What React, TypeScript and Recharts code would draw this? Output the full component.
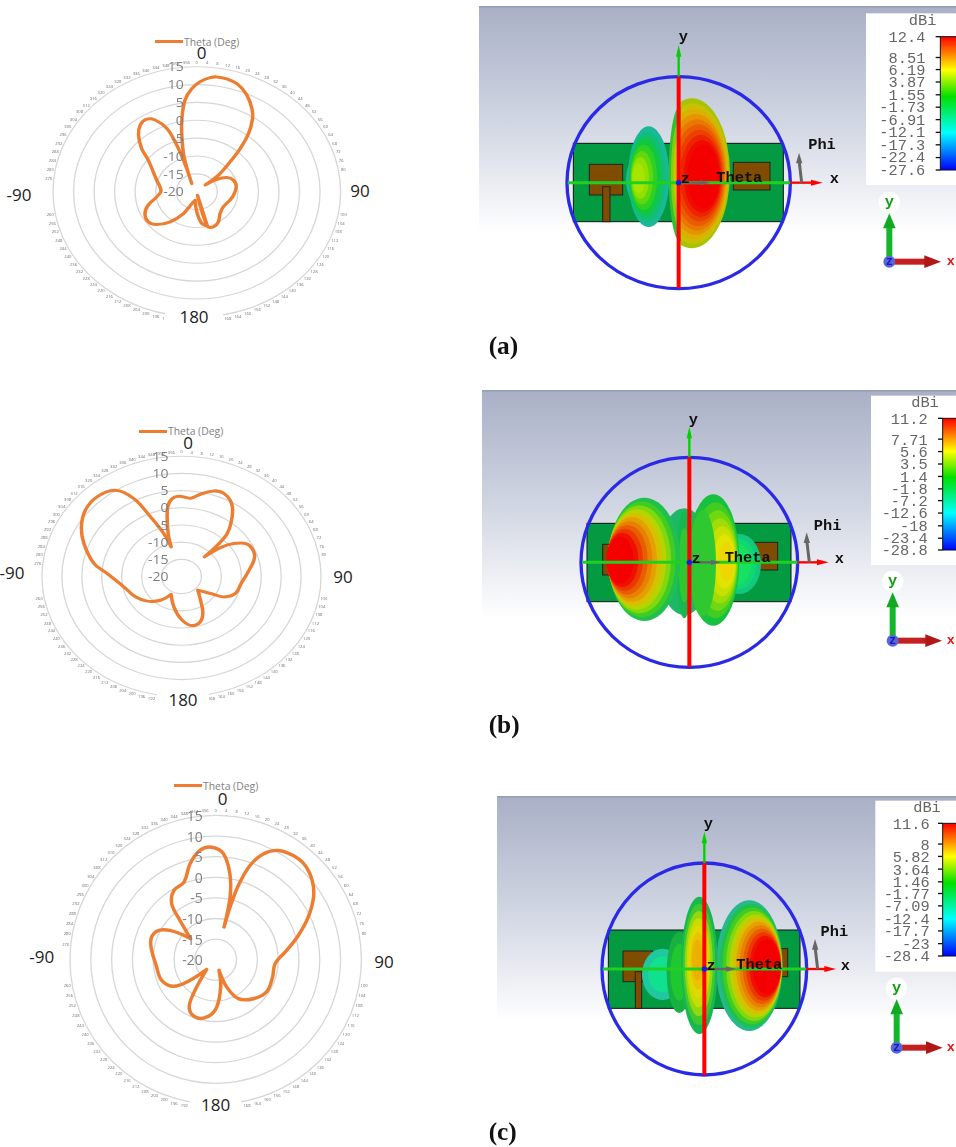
import React from 'react';
import { RadarChart, Radar, PolarGrid, PolarAngleAxis, PolarRadiusAxis } from 'recharts';

const thetaA = [1.5, 5.8, 8.6, 13, 18.7, 24.2, 29.9, 33.5, 37.7, 41.1, 44, 48.5, 47.3, 54.7, 61.3, 69.9, 81.7, 96, 106, 122.9, 137, 147.9, 157.5, 164.8, 170, 164.8, 173, 180, 190, 200, 208, 217.7, 226.8, 234.6, 244.3, 252.5, 261.8, 272, 288.5, 306.9, 312.1, 318.2, 323.6, 329, 333.2, 337.6, 339.3, 339.9, 332, 342.5, 347.3, 350.3, 353.7, 357.6];
const gainA = [10.8, 12.1, 12.5, 12.4, 11.6, 9.7, 6.9, 4.6, 0.6, -3.9, -8.3, -12.95, -17.2, -14, -11.7, -10.5, -10.3, -11, -11.6, -12.3, -11.7, -10.1, -9.4, -10, -19, -10, -11.3, -14.4, -17.6, -16.5, -13.1, -9.4, -6.6, -5.5, -6, -7.6, -10.15, -11.3, -9.7, -5.2, -1.9, 1.3, 3.2, 3.7, 2.5, -0.8, -5, -10.55, -17.4, -9.7, -3.3, 1.3, 5.9, 8.9];

const thetaB = [343.2, 345, 348.3, 350.8, 354.1, 358.4, 5.7, 11.2, 18, 23.7, 30.6, 36.2, 42.5, 44.6, 45.3, 49.3, 53.9, 60.3, 68.4, 75.3, 87, 97.7, 110, 119.1, 124.2, 134.2, 145.3, 153.5, 161.5, 171, 181.2, 192.3, 206.8, 217.5, 230.2, 242.9, 258.3, 272.7, 279.8, 291.4, 300, 308.7, 317.6, 326.5, 332.1, 335.9, 340.4];
const gainB = [-11, -7.05, -2.2, 1, 2.8, 3.4, 2.9, 4.4, 6.2, 6.4, 4.7, 1.5, -3, -7.2, -11.9, -7.1, -3.7, -1, -0.5, -1.2, -3.5, -4.9, -5.6, -7.8, -11.2, -14.3, -11.6, -8, -5.8, -5.6, -7.8, -11, -14.2, -11.3, -8.8, -7, -5.2, -1.3, 2.3, 6.3, 9, 10.9, 11.4, 10.1, 5.7, -1, -6.7];

const thetaC = [14.2, 15.1, 16.8, 19.8, 24, 29.6, 36.4, 43.1, 50.4, 57.1, 65.1, 73.5, 82.4, 93.9, 107.1, 122.6, 136.3, 150.1, 158.3, 162.8, 169.7, 178.8, 187.3, 198, 208, 213, 222.7, 231, 237.5, 248.9, 262.8, 285.3, 295.9, 302.9, 310.4, 318, 322.1, 329.2, 338, 345.2, 351.9, 358, 4.1, 9.3, 12.8];
const gainC = [-11.8, -6.8, -1.2, 4.3, 8.1, 10.5, 11.4, 11.4, 10.1, 8, 4.5, 0.7, -2.8, -5.7, -5.7, -5.5, -6.9, -9.1, -12.9, -17.3, -13.3, -8.5, -6.15, -5.2, -6.5, -10.2, -16.8, -12.1, -8, -6.1, -5.7, -3.8, -4.25, -6.9, -12.1, -7.2, -2.8, -0.4, 0.3, 4.1, 6.8, 7.3, 5.8, 1.1, -4.4];

const radiusTicks = [-20, -15, -10, -5, 0, 5, 10, 15];
const angleTicks = Array.from({ length: 90 }, (_, i) => i * 4);

const colorbarA = ['12.4', '8.51', '6.19', '3.87', '1.55', '-1.73', '-6.91', '-12.1', '-17.3', '-22.4', '-27.6'];
const colorbarB = ['11.2', '7.71', '5.6', '3.5', '1.4', '-1.8', '-7.2', '-12.6', '-18', '-23.4', '-28.8'];
const colorbarC = ['11.6', '8', '5.82', '3.64', '1.46', '-1.77', '-7.09', '-12.4', '-17.7', '-23', '-28.4'];

const ORANGE = '#ed7d31';
const SANS = '"Open Sans", sans-serif';
const MONO = '"Liberation Mono", monospace';

const isHidden = (deg: number) =>
  (deg > 80 && deg < 100) || (deg > 168 && deg < 192) || (deg > 260 && deg < 276) || deg >= 360;

const AngleTick = (props: any) => {
  const { x, y, payload } = props;
  if (isHidden(payload.value)) return null;
  return (
    <text x={x} y={y} textAnchor="middle" dominantBaseline="central" fontSize={4.2} fontFamily={SANS} fill="#6f6f6f">
      {payload.value}
    </text>
  );
};

const RadiusTick = (props: any) => {
  const { x, y, payload } = props;
  return (
    <text x={x - 13} y={y} textAnchor="end" dominantBaseline="central" fontSize={14} fontFamily={SANS} fill="#7f7f7f">
      {payload.value}
    </text>
  );
};

// closed curve through the radar's own points, corners kept sharp at the nulls
const SmoothTrace = (props: any) => {
  const pts: { x: number; y: number }[] = props.points;
  const n = pts.length;
  const tangents = pts.map((p, i) => {
    const a = pts[(i + n - 1) % n];
    const b = pts[(i + 1) % n];
    const ax = p.x - a.x;
    const ay = p.y - a.y;
    const bx = b.x - p.x;
    const by = b.y - p.y;
    const la = Math.hypot(ax, ay) || 1;
    const lb = Math.hypot(bx, by) || 1;
    if ((ax * bx + ay * by) / (la * lb) < -0.1) return { x: 0, y: 0 };
    const tx = b.x - a.x;
    const ty = b.y - a.y;
    const lt = Math.hypot(tx, ty) || 1;
    return { x: tx / lt, y: ty / lt };
  });
  let d = `M${pts[0].x},${pts[0].y}`;
  for (let i = 0; i < n; i++) {
    const p = pts[i];
    const q = pts[(i + 1) % n];
    const len = Math.hypot(q.x - p.x, q.y - p.y) * 0.36;
    const t0 = tangents[i];
    const t1 = tangents[(i + 1) % n];
    d += `C${p.x + t0.x * len},${p.y + t0.y * len} ${q.x - t1.x * len},${q.y - t1.y * len} ${q.x},${q.y}`;
  }
  return <path d={d + 'Z'} fill="none" stroke={ORANGE} strokeWidth={3.5} strokeLinejoin="round" />;
};

interface PolarCutProps {
  theta: number[];
  gain: number[];
  cx: number;
  cy: number;
  radius: number;
  squash: number;
  legendX: number;
  legendY: number;
  labels: { text: string; x: number; y: number; gap?: number }[];
  labelSize: number;
}

const PolarCut: React.FC<PolarCutProps> = ({ theta, gain, cx, cy, radius, squash, legendX, legendY, labels, labelSize }) => {
  const rows = theta.map((t, i) => ({ theta: t, gain: gain[i] }));
  const size = 2 * radius + 50;
  return (
    <>
      <div
        style={{
          position: 'absolute',
          left: cx - size / 2,
          top: cy - size / 2,
          width: size,
          height: size,
          transform: `scaleY(${squash})`,
          filter: 'blur(0.35px)',
        }}
      >
        <RadarChart width={size} height={size} data={rows} cx={size / 2} cy={size / 2} outerRadius={radius} margin={{ top: 0, right: 0, bottom: 0, left: 0 }}>
          <PolarGrid gridType="circle" radialLines={false} stroke="#d6d6d6" strokeWidth={1.3} />
          <PolarAngleAxis
            dataKey="theta"
            type="number"
            domain={[0, 360]}
            ticks={angleTicks as any}
            tick={AngleTick}
            tickLine={false}
            axisLine={false}
            tickSize={5}
            allowDuplicatedCategory
          />
          <PolarRadiusAxis angle={90} domain={[-20, 15]} ticks={radiusTicks as any} tickCount={8} tick={RadiusTick} axisLine={false} tickLine={false} />
          <Radar dataKey="gain" stroke={ORANGE} fill="none" shape={SmoothTrace} dot={false} isAnimationActive={false} />
        </RadarChart>
      </div>
      <div style={{ position: 'absolute', left: legendX, top: legendY - 1.5, width: 28, height: 3, background: ORANGE }} />
      <div style={{ position: 'absolute', left: legendX + 29, top: legendY - 7, fontFamily: SANS, fontSize: 10.4, lineHeight: '14px', color: '#7f7f7f', whiteSpace: 'nowrap' }}>
        Theta (Deg)
      </div>
      {labels.map((l) => (
        <div
          key={l.text}
          style={{
            position: 'absolute',
            left: l.x - 40,
            top: l.y - 12,
            width: 80,
            height: 24,
            lineHeight: '24px',
            textAlign: 'center',
            fontFamily: SANS,
            fontSize: labelSize,
            color: '#222',
          }}
        >
          {l.gap ? <span style={{ background: '#fff', padding: `0 ${l.gap}px` }}>{l.text}</span> : l.text}
        </div>
      ))}
    </>
  );
};

const HOT = ['#a8c400', '#c8c000', '#dcb000', '#e49400', '#e87800', '#ea5c00', '#ec4000', '#ee2400', '#f00a00', '#f40000'];
const WARM = ['#18c040', '#40cc20', '#70d810', '#a0dc08', '#c8e000', '#e0e400', '#ecd800'];
const FULL = ['#20c050', '#40cc20', '#80d810', '#b8d400', '#d8c000', '#e4a000', '#e88000', '#ea5c00', '#ec3800', '#f01000', '#f40000'];
const COOL = ['#18b898', '#10c070', '#10c840', '#30d020', '#60d810', '#90e000', '#a8e400'];

interface LobeSpec {
  id: string;
  cx: number;
  cy: number;
  rx: number;
  ry: number;
  fx: number;
  fy: number;
  end: number;
  colors: string[];
  clipX?: number;
}

const Lobe = ({ spec }: { spec: LobeSpec }) => {
  const n = spec.colors.length;
  return (
    <g>
      {spec.clipX !== undefined && (
        <clipPath id={spec.id}>
          <rect x={spec.clipX} y={0} width={1000} height={1000} />
        </clipPath>
      )}
      <g clipPath={spec.clipX !== undefined ? `url(#${spec.id})` : undefined}>
        {spec.colors.map((c, i) => {
          const t = n > 1 ? i / (n - 1) : 0;
          return (
            <ellipse
              key={i}
              cx={spec.cx + (spec.fx - spec.cx) * t}
              cy={spec.cy + (spec.fy - spec.cy) * t}
              rx={spec.rx * (1 - (1 - spec.end) * t)}
              ry={spec.ry * (1 - (1 - spec.end) * t)}
              fill={c}
            />
          );
        })}
      </g>
    </g>
  );
};

interface ViewProps {
  id: string;
  top: number;
  height: number;
  bgX: number;
  bgTop: number;
  axisX: number;
  axisY: number;
  circle: { rx: number; ry: number };
  board: { x0: number; x1: number; y0: number; y1: number };
  patches: { x: number; y: number; w: number; h: number }[];
  lobes: LobeSpec[];
  text: { y: [number, number]; x: [number, number]; phi: [number, number]; theta: [number, number]; z: [number, number] };
  axisTop: number;
  axisBottom: number;
  axisLeft: number;
  axisRight: number;
  arrowEnd: number;
  box: { x: number; y0: number; y1: number; labelX: number };
  bar: { x: number; y0: number; y1: number };
  values: string[];
  valueY: number[];
  triad: { x: number; y: number; end: number };
  caption: string;
  captionY: number;
}

const FieldView: React.FC<ViewProps> = (p) => (
  <svg
    viewBox={`0 0 1440 ${p.height * 3}`}
    width={480}
    height={p.height}
    style={{ position: 'absolute', left: 476, top: p.top, filter: 'blur(0.3px)' }}
  >
    <defs>
      <linearGradient id={`${p.id}-bg`} x1="0" y1="0" x2="0" y2="1">
        <stop offset="0" stopColor="#a9b0c6" />
        <stop offset="0.5" stopColor="#d0d5e2" />
        <stop offset="1" stopColor="#ffffff" />
      </linearGradient>
      <linearGradient id={`${p.id}-bar`} x1="0" y1="0" x2="0" y2="1">
        <stop offset="0" stopColor="#ff0000" />
        <stop offset="0.12" stopColor="#ff7a00" />
        <stop offset="0.25" stopColor="#ffff00" />
        <stop offset="0.45" stopColor="#00e000" />
        <stop offset="0.72" stopColor="#00ffff" />
        <stop offset="1" stopColor="#0000ff" />
      </linearGradient>
    </defs>
    <rect x={p.bgX} y={p.bgTop} width={1440 - p.bgX} height={700 - p.bgTop} fill={`url(#${p.id}-bg)`} />
    <rect x={p.bgX} y={p.bgTop} width={1440 - p.bgX} height={5} fill="#9aa0b4" />

    <rect x={p.board.x0} y={p.board.y0} width={p.board.x1 - p.board.x0} height={p.board.y1 - p.board.y0} fill="#049a42" stroke="#111" strokeWidth={3} />
    {p.patches.map((r, i) => (
      <rect key={i} x={r.x} y={r.y} width={r.w} height={r.h} fill="#7f4c00" stroke="#222" strokeWidth={3} />
    ))}
    {p.lobes.map((l) => (
      <Lobe key={l.id} spec={l} />
    ))}

    <ellipse cx={p.axisX} cy={p.axisY} rx={p.circle.rx} ry={p.circle.ry} fill="none" stroke="#2a2ae6" strokeWidth={10} />
    <line x1={p.axisX} y1={p.axisTop + 20} x2={p.axisX} y2={p.axisY - p.circle.ry} stroke="#00d000" strokeWidth={7} />
    <polygon points={`${p.axisX - 8},${p.axisTop + 35} ${p.axisX + 8},${p.axisTop + 35} ${p.axisX},${p.axisTop}`} fill="#00d000" />
    <line x1={p.axisX} y1={p.axisY - p.circle.ry} x2={p.axisX} y2={p.axisBottom} stroke="#ff0000" strokeWidth={12} />
    <line x1={p.axisLeft} y1={p.axisY} x2={p.axisRight} y2={p.axisY} stroke="#20d020" strokeWidth={9} />
    <line x1={p.axisRight} y1={p.axisY} x2={p.arrowEnd - 30} y2={p.axisY} stroke="#ff0000" strokeWidth={7} />
    <polygon points={`${p.arrowEnd - 35},${p.axisY - 9} ${p.arrowEnd - 35},${p.axisY + 9} ${p.arrowEnd},${p.axisY}`} fill="#ff0000" />
    <line x1={p.axisX} y1={p.axisY} x2={p.axisX + 70} y2={p.axisY} stroke="#666" strokeWidth={7} />
    <polygon points={`${p.axisX + 65},${p.axisY - 8} ${p.axisX + 65},${p.axisY + 8} ${p.axisX + 95},${p.axisY}`} fill="#666" />
    <circle cx={p.axisX} cy={p.axisY} r={8} fill="#1a1ae0" />
    <line x1={p.axisRight + 35} y1={p.axisY} x2={p.axisRight + 28} y2={p.axisY - 60} stroke="#666" strokeWidth={9} />
    <polygon points={`${p.axisRight + 18},${p.axisY - 58} ${p.axisRight + 37},${p.axisY - 58} ${p.axisRight + 27},${p.axisY - 90}`} fill="#666" />

    <g fontFamily={MONO} fontWeight="bold" fontSize={46} fill="#111" textAnchor="middle" dominantBaseline="central">
      <text x={p.text.y[0]} y={p.text.y[1]}>y</text>
      <text x={p.text.x[0]} y={p.text.x[1]}>x</text>
      <text x={p.text.phi[0]} y={p.text.phi[1]}>Phi</text>
      <text x={p.text.theta[0]} y={p.text.theta[1]}>Theta</text>
      <text x={p.text.z[0]} y={p.text.z[1]}>z</text>
    </g>

    <rect x={p.box.x} y={p.box.y0} width={1440 - p.box.x} height={p.box.y1 - p.box.y0} fill="#fff" />
    <text x={p.box.labelX - 5} y={p.box.y0 + 23} fontFamily={MONO} fontSize={46} fill="#666" textAnchor="middle" dominantBaseline="central">dBi</text>
    {p.values.map((v, i) => (
      <g key={v}>
        <text x={p.box.labelX + 3} y={p.valueY[i]} fontFamily={MONO} fontSize={46} fill="#666" textAnchor="end" dominantBaseline="central">{v}</text>
        <line x1={p.bar.x - 14} x2={p.bar.x} y1={p.bar.y0 + ((p.bar.y1 - p.bar.y0) * (p.valueY[i] - p.valueY[0])) / (p.valueY[10] - p.valueY[0])} y2={p.bar.y0 + ((p.bar.y1 - p.bar.y0) * (p.valueY[i] - p.valueY[0])) / (p.valueY[10] - p.valueY[0])} stroke="#111" strokeWidth={4} />
      </g>
    ))}
    <rect x={p.bar.x} y={p.bar.y0} width={1440 - p.bar.x + 10} height={p.bar.y1 - p.bar.y0} fill={`url(#${p.id}-bar)`} stroke="#111" strokeWidth={3} />

    <circle cx={p.triad.x} cy={p.triad.y - 178} r={32} fill="#fff" />
    <text x={p.triad.x} y={p.triad.y - 178} fontFamily={MONO} fontWeight="bold" fontSize={46} fill="#12a012" textAnchor="middle" dominantBaseline="central">y</text>
    <rect x={p.triad.x - 9} y={p.triad.y - 110} width={18} height={110} fill="#12b82a" />
    <polygon points={`${p.triad.x - 19},${p.triad.y - 100} ${p.triad.x + 19},${p.triad.y - 100} ${p.triad.x},${p.triad.y - 145}`} fill="#12a822" />
    <rect x={p.triad.x} y={p.triad.y - 9} width={p.triad.end - p.triad.x - 45} height={18} fill="#c42020" />
    <polygon points={`${p.triad.end - 50},${p.triad.y - 19} ${p.triad.end - 50},${p.triad.y + 19} ${p.triad.end},${p.triad.y}`} fill="#b01818" />
    <circle cx={p.triad.x} cy={p.triad.y} r={18} fill="#5a66d8" />
    <text x={p.triad.x} y={p.triad.y} fontFamily={MONO} fontWeight="bold" fontSize={36} fill="#1818c0" textAnchor="middle" dominantBaseline="central">z</text>
    <text x={1424} y={p.triad.y} fontFamily={MONO} fontWeight="bold" fontSize={40} fill="#f01010" textAnchor="middle" dominantBaseline="central">x</text>

    <text x={38} y={p.captionY} fontFamily='"Liberation Serif", serif' fontWeight="bold" fontSize={76} fill="#111">{p.caption}</text>
  </svg>
);

const lobesA: LobeSpec[] = [
  { id: 'a0', cx: 515, cy: 540, rx: 65, ry: 90, fx: 515, fy: 540, end: 1, colors: ['#20b8a0'] },
  { id: 'a1', cx: 518, cy: 530, rx: 62, ry: 151, fx: 488, fy: 535, end: 0.3, colors: COOL },
  { id: 'a2', cx: 612, cy: 522, rx: 34, ry: 202, fx: 612, fy: 522, end: 0.6, colors: ['#30c030', '#80d010', '#c0c800'] },
  { id: 'a3', cx: 648, cy: 520, rx: 114, ry: 225, fx: 682, fy: 530, end: 0.42, colors: HOT, clipX: 614 },
];

const lobesB: LobeSpec[] = [
  { id: 'b0', cx: 790, cy: 537, rx: 65, ry: 90, fx: 780, fy: 537, end: 0.7, colors: ['#10c880', '#10d870', '#18e060'] },
  { id: 'bw', cx: 625, cy: 530, rx: 80, ry: 160, fx: 625, fy: 530, end: 1, colors: ['#1cb868'] },
  { id: 'b1', cx: 712, cy: 525, rx: 78, ry: 197, fx: 752, fy: 530, end: 0.3, colors: WARM, clipX: 645 },
  { id: 'bs', cx: 680, cy: 535, rx: 40, ry: 160, fx: 680, fy: 535, end: 1, colors: ['#30c830'] },
  { id: 'b2', cx: 625, cy: 540, rx: 24, ry: 160, fx: 625, fy: 540, end: 0.7, colors: ['#18b850', '#30c830'] },
  { id: 'b3', cx: 505, cy: 523, rx: 108, ry: 185, fx: 432, fy: 525, end: 0.38, colors: FULL },
];

const lobesC: LobeSpec[] = [
  { id: 'c0', cx: 560, cy: 553, rx: 62, ry: 77, fx: 560, fy: 553, end: 0.7, colors: ['#20c8a0', '#10e090'] },
  { id: 'c1', cx: 610, cy: 547, rx: 38, ry: 122, fx: 610, fy: 547, end: 0.7, colors: ['#18b040', '#20c830'] },
  { id: 'c2', cx: 820, cy: 527, rx: 100, ry: 196, fx: 872, fy: 530, end: 0.42, colors: ['#28b890', ...FULL] },
  { id: 'c3', cx: 670, cy: 526, rx: 55, ry: 206, fx: 665, fy: 510, end: 0.3, colors: ['#18b850', '#40c830', '#90d810', '#c8dc00', '#e0d800', '#e8c400', '#ecb000'] },
];

export default function App() {
  return (
    <div style={{ position: 'absolute', left: 0, top: 0, width: 956, height: 1147, background: '#fff', overflow: 'hidden' }}>
      <PolarCut
        theta={thetaA}
        gain={gainA}
        cx={196.5}
        cy={191.7}
        radius={143.8}
        squash={0.87}
        legendX={155}
        legendY={41.7}
        labelSize={17}
        labels={[
          { text: '0', x: 201.7, y: 52.7 },
          { text: '90', x: 360, y: 190.7 },
          { text: '-90', x: 19, y: 195 },
          { text: '180', x: 194, y: 316.7, gap: 14 },
        ]}
      />
      <PolarCut
        theta={thetaB}
        gain={gainB}
        cx={181}
        cy={576.3}
        radius={139.5}
        squash={0.862}
        legendX={139}
        legendY={431.3}
        labelSize={17}
        labels={[
          { text: '0', x: 188, y: 443 },
          { text: '90', x: 343, y: 576.7 },
          { text: '-90', x: 12, y: 573 },
          { text: '180', x: 183, y: 700, gap: 11 },
        ]}
      />
      <PolarCut
        theta={thetaC}
        gain={gainC}
        cx={215.7}
        cy={959.3}
        radius={145.7}
        squash={0.99}
        legendX={174}
        legendY={785.7}
        labelSize={17}
        labels={[
          { text: '0', x: 222.7, y: 799 },
          { text: '90', x: 384, y: 961.7 },
          { text: '-90', x: 41.7, y: 957 },
          { text: '180', x: 215.7, y: 1105, gap: 11 },
        ]}
      />

      <FieldView
        id="a"
        top={0}
        height={375}
        bgX={9}
        bgTop={18}
        axisX={608}
        axisY={548}
        circle={{ rx: 335, ry: 318 }}
        board={{ x0: 292, x1: 922, y0: 430, y1: 665 }}
        patches={[
          { x: 340, y: 493, w: 100, h: 92 },
          { x: 380, y: 560, w: 22, h: 105 },
          { x: 772, y: 487, w: 110, h: 83 },
        ]}
        lobes={lobesA}
        text={{ y: [622, 110], x: [1075, 537], phi: [1038, 436], theta: [790, 535], z: [628, 537] }}
        axisTop={135}
        axisBottom={865}
        axisLeft={275}
        axisRight={942}
        arrowEnd={1040}
        box={{ x: 1170, y0: 40, y1: 555, labelX: 1345 }}
        bar={{ x: 1393, y0: 110, y1: 510 }}
        values={colorbarA}
        valueY={[115, 177, 213, 250, 288, 325, 362, 400, 437, 475, 512]}
        triad={{ x: 1240, y: 785, end: 1395 }}
        caption="(a)"
        captionY={1062}
      />
      <FieldView
        id="b"
        top={385}
        height={365}
        bgX={18}
        bgTop={15}
        axisX={640}
        axisY={532}
        circle={{ rx: 325, ry: 315 }}
        board={{ x0: 333, x1: 945, y0: 415, y1: 650 }}
        patches={[
          { x: 380, y: 478, w: 40, h: 92 },
          { x: 835, y: 472, w: 70, h: 83 },
        ]}
        lobes={lobesB}
        text={{ y: [652, 105], x: [1090, 522], phi: [1055, 423], theta: [815, 520], z: [660, 522] }}
        axisTop={125}
        axisBottom={845}
        axisLeft={318}
        axisRight={965}
        arrowEnd={1058}
        box={{ x: 1185, y0: 32, y1: 540, labelX: 1352 }}
        bar={{ x: 1400, y0: 100, y1: 495 }}
        values={colorbarB}
        valueY={[105, 167, 204, 241, 278, 315, 350, 387, 425, 462, 497]}
        triad={{ x: 1250, y: 767, end: 1398 }}
        caption="(b)"
        captionY={1045}
      />
      <FieldView
        id="c"
        top={790}
        height={357}
        bgX={63}
        bgTop={18}
        axisX={685}
        axisY={537}
        circle={{ rx: 307, ry: 318 }}
        board={{ x0: 397, x1: 972, y0: 420, y1: 655 }}
        patches={[
          { x: 441, y: 483, w: 89, h: 92 },
          { x: 478, y: 545, w: 19, h: 110 },
          { x: 880, y: 476, w: 55, h: 84 },
        ]}
        lobes={lobesC}
        text={{ y: [697, 103], x: [1108, 527], phi: [1075, 425], theta: [850, 525], z: [705, 527] }}
        axisTop={125}
        axisBottom={855}
        axisLeft={380}
        axisRight={990}
        arrowEnd={1080}
        box={{ x: 1198, y0: 32, y1: 545, labelX: 1358 }}
        bar={{ x: 1400, y0: 100, y1: 498 }}
        values={colorbarC}
        valueY={[105, 167, 204, 242, 280, 315, 352, 390, 427, 465, 502]}
        triad={{ x: 1262, y: 773, end: 1400 }}
        caption="(c)"
        captionY={1050}
      />
    </div>
  );
}
